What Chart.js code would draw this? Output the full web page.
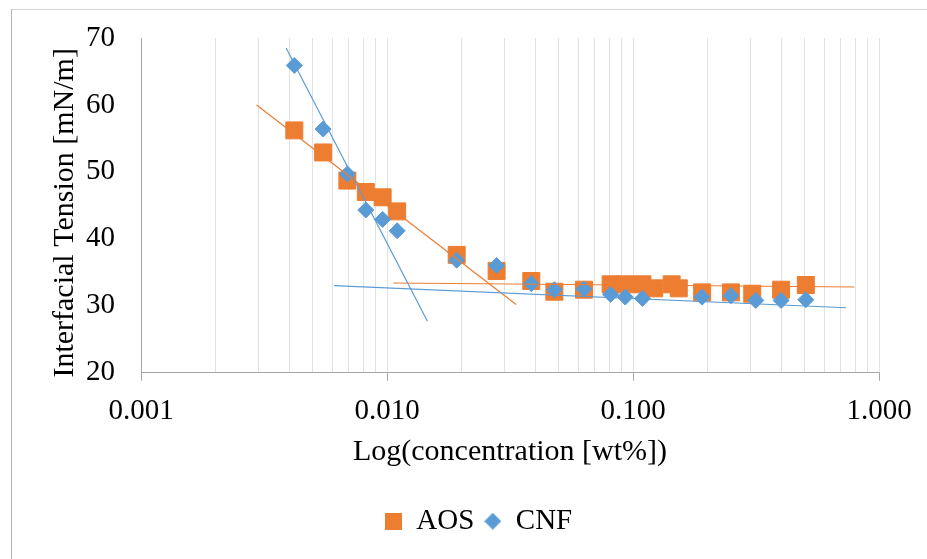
<!DOCTYPE html>
<html>
<head>
<meta charset="utf-8">
<title>Interfacial tension</title>
<script src="https://cdn.jsdelivr.net/npm/chart.js@4.4.1/dist/chart.umd.min.js"></script>
<style>
  html, body { margin: 0; padding: 0; background: #fff; overflow: hidden; }
  #frame { position: absolute; left: 11px; top: 9px; width: 1000px; height: 700px;
           border-left: 1px solid #b4b4b4; border-top: 1px solid #d4d4d4; }
  canvas { position: absolute; left: 0; top: 0; }
</style>
</head>
<body>
<div id="frame"></div>
<canvas id="chart" width="927" height="559"></canvas>
<script>
// values
const aosConc = [0.0042, 0.0055, 0.0069, 0.0082, 0.0096, 0.0110, 0.0192, 0.0279, 0.0386, 0.0479, 0.0632,
                 0.0811, 0.0930, 0.1092, 0.1220, 0.1436, 0.1535, 0.1910, 0.2500, 0.3053, 0.4000, 0.5040];
const aosTension = [56.2, 52.9, 48.7, 47.0, 46.2, 44.1, 37.6, 35.2, 33.7, 32.1, 32.4,
                    33.2, 33.2, 33.2, 32.6, 33.2, 32.6, 32.0, 32.0, 31.8, 32.4, 33.1];
const cnfConc = [0.0042, 0.0055, 0.0069, 0.0082, 0.0096, 0.0110, 0.0192, 0.0279, 0.0386, 0.0479, 0.0632,
                 0.0811, 0.0930, 0.1092, 0.1910, 0.2500, 0.3155, 0.4000, 0.5040];
const cnfTension = [65.9, 56.4, 49.7, 44.3, 42.9, 41.2, 36.8, 36.0, 33.3, 32.4, 32.5,
                    31.7, 31.3, 31.1, 31.3, 31.5, 30.8, 30.8, 30.9];

// trend lines (end points)
const aosSteepConc = [0.00295, 0.0335];
const aosSteepTension = [60.0, 30.2];
const aosFlatConc = [0.0106, 0.794];
const aosFlatTension = [33.4, 32.8];
const cnfSteepConc = [0.00389, 0.0146];
const cnfSteepTension = [68.5, 27.7];
const cnfFlatConc = [0.0061, 0.735];
const cnfFlatTension = [33.0, 29.7];

const decades = [0.001, 0.01, 0.1, 1];
const yTicks = [20, 30, 40, 50, 60, 70];

const ORANGE = '#ED7D31';
const BLUE = '#5B9BD5';
const AXIS = '#a6a6a6';
const NONE = 'rgba(0,0,0,0)';

Chart.defaults.font.family = "'Liberation Serif', 'Times New Roman', serif";
Chart.defaults.font.size = 29;
Chart.defaults.color = '#000';

const toPoints = (xs, ys) => xs.map((x, i) => ({ x: x, y: ys[i] }));
const isDecade = v => decades.some(d => Math.abs(d - v) < d * 1e-6);

// little marker pictures for the legend
function marker(kind, color, size) {
  const c = document.createElement('canvas');
  c.width = size; c.height = size;
  const g = c.getContext('2d');
  g.fillStyle = color;
  if (kind === 'square') {
    g.fillRect(0, 0, size, size);
  } else {
    g.beginPath();
    g.moveTo(size / 2, 0); g.lineTo(size, size / 2);
    g.lineTo(size / 2, size); g.lineTo(0, size / 2);
    g.closePath(); g.fill();
  }
  return c;
}
const aosIcon = marker('square', ORANGE, 17);
const cnfIcon = marker('diamond', BLUE, 17);

function trend(xs, ys, color, order) {
  return {
    data: toPoints(xs, ys), showLine: true, borderColor: color, borderWidth: 1.2,
    pointRadius: 0, pointHoverRadius: 0, order: order
  };
}

new Chart(document.getElementById('chart'), {
  type: 'scatter',
  data: {
    datasets: [
      { label: 'AOS', data: toPoints(aosConc, aosTension), pointStyle: 'rect', pointRadius: 12,
        backgroundColor: ORANGE, borderColor: ORANGE, borderWidth: 1, order: 4 },
      { label: 'CNF', data: toPoints(cnfConc, cnfTension), pointStyle: 'rectRot', pointRadius: 8,
        backgroundColor: BLUE, borderColor: BLUE, borderWidth: 1, order: 3 },
      trend(aosSteepConc, aosSteepTension, ORANGE, 2),
      trend(aosFlatConc, aosFlatTension, ORANGE, 2),
      trend(cnfSteepConc, cnfSteepTension, BLUE, 1),
      trend(cnfFlatConc, cnfFlatTension, BLUE, 1)
    ]
  },
  options: {
    responsive: false,
    animation: false,
    layout: { padding: { left: 78, right: 48, top: 38, bottom: 13.3 } },
    plugins: {
      tooltip: { enabled: false },
      legend: {
        position: 'bottom',
        labels: {
          usePointStyle: true, boxWidth: 17, boxHeight: 17, padding: 10,
          font: { size: 29 },
          generateLabels: () => [
            { text: 'AOS', pointStyle: aosIcon, fillStyle: ORANGE, strokeStyle: ORANGE, lineWidth: 0, hidden: false, datasetIndex: 0 },
            { text: 'CNF', pointStyle: cnfIcon, fillStyle: BLUE, strokeStyle: BLUE, lineWidth: 0, hidden: false, datasetIndex: 1 }
          ]
        }
      }
    },
    scales: {
      x: {
        type: 'logarithmic',
        min: decades[0],
        max: decades[decades.length - 1],
        afterBuildTicks: scale => {
          const ticks = [];
          decades.forEach((d, i) => {
            if (i === decades.length - 1) { ticks.push({ value: d }); return; }
            for (let k = 1; k < 10; k++) ticks.push({ value: +(d * k).toPrecision(3) });
          });
          scale.ticks = ticks;
        },
        afterFit: scale => { scale.height = 124; },
        grid: {
          color: '#e2e2e2',
          lineWidth: 1,
          drawTicks: true,
          tickLength: 8,
          tickColor: ctx => (ctx.tick && isDecade(ctx.tick.value)) ? AXIS : NONE
        },
        border: { color: AXIS, width: 1 },
        ticks: {
          autoSkip: false, maxRotation: 0, padding: 13,
          callback: v => isDecade(v) ? v.toFixed(3) : ''
        },
        title: {
          display: true, text: 'Log(concentration [wt%])',
          font: { size: 30 }, padding: { top: 0, bottom: 26.8 }
        }
      },
      y: {
        min: yTicks[0],
        max: yTicks[yTicks.length - 1],
        afterFit: scale => { scale.width = 63; },
        ticks: { stepSize: yTicks[1] - yTicks[0], padding: 0 },
        // invisible tick marks keep the labels away from the axis
        grid: { drawOnChartArea: false, drawTicks: true, tickLength: 26, tickColor: NONE },
        border: { color: AXIS, width: 1 },
        title: {
          display: true, text: 'Interfacial Tension [mN/m]\u00a0\u00a0',
          font: { size: 30 }, padding: { top: -31.1, bottom: 0 }
        }
      }
    }
  }
});
</script>
</body>
</html>
